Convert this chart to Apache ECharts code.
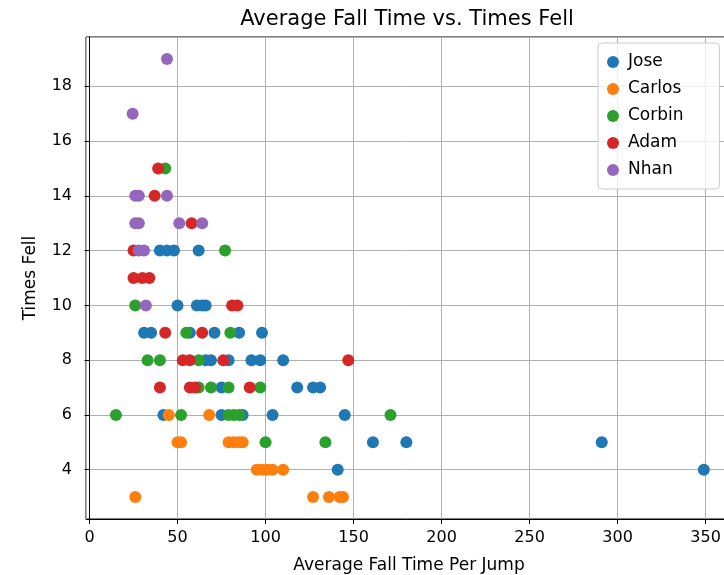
<!DOCTYPE html>
<html>
<head>
<meta charset="utf-8">
<script src="https://cdn.jsdelivr.net/npm/echarts@6/dist/echarts.min.js"></script>
<style>
  body { margin: 0; background: #fff; }
</style>
</head>
<body>
<div id="chart" style="width: 724px; height: 575px;"></div>
<script>
  // [average fall time per jump, times fell]
  var names = ['Jose', 'Carlos', 'Corbin', 'Adam', 'Nhan'];
  var colors = ['#1f77b4', '#ff7f0e', '#2ca02c', '#d62728', '#9467bd'];

  var jose = [
    [349, 4], [141, 4],
    [161, 5], [180, 5], [291, 5],
    [42, 6], [75, 6], [87, 6], [104, 6], [145, 6],
    [75, 7], [118, 7], [127, 7], [131, 7],
    [66, 8], [69, 8], [79, 8], [92, 8], [97, 8], [110, 8],
    [31, 9], [35, 9], [57, 9], [71, 9], [85, 9], [98, 9],
    [50, 10], [61, 10], [64, 10], [66, 10],
    [40, 12], [44, 12], [48, 12], [62, 12]
  ];
  var carlos = [
    [26, 3], [127, 3], [136, 3], [142, 3], [144, 3],
    [95, 4], [98, 4], [101, 4], [104, 4], [110, 4],
    [50, 5], [52, 5], [79, 5], [82, 5], [85, 5], [87, 5],
    [45, 6], [68, 6]
  ];
  var corbin = [
    [100, 5], [134, 5],
    [15, 6], [52, 6], [79, 6], [82, 6], [85, 6], [171, 6],
    [62, 7], [69, 7], [79, 7], [97, 7],
    [33, 8], [40, 8], [62, 8],
    [55, 9], [80, 9],
    [26, 10],
    [77, 12],
    [43, 15]
  ];
  var adam = [
    [40, 7], [57, 7], [60, 7], [91, 7],
    [53, 8], [57, 8], [76, 8], [147, 8],
    [43, 9], [64, 9],
    [81, 10], [84, 10],
    [25, 11], [30, 11], [34, 11],
    [25, 12],
    [58, 13],
    [37, 14],
    [39, 15]
  ];
  var nhan = [
    [32, 10],
    [28, 12], [31, 12],
    [26, 13], [28, 13], [51, 13], [64, 13],
    [26, 14], [28, 14], [44, 14],
    [24.5, 17],
    [44, 19]
  ];
  var seriesData = [jose, carlos, corbin, adam, nhan];

  var font = 'DejaVu Sans';
  var chart = echarts.init(document.getElementById('chart'));

  var series = [];
  for (var i = 0; i < names.length; i++) {
    series.push({
      name: names[i],
      type: 'scatter',
      symbolSize: 12,
      itemStyle: { color: colors[i], opacity: 1 },
      data: seriesData[i]
    });
  }

  chart.setOption({
    animation: false,
    color: colors,
    title: {
      text: 'Average Fall Time vs. Times Fell',
      left: 407,
      top: 9,
      padding: 0,
      textAlign: 'center',
      textStyle: { fontFamily: font, fontSize: 21, fontWeight: 'normal', color: '#000' }
    },
    legend: {
      data: names,
      orient: 'vertical',
      left: 598,
      top: 43,
      padding: [9, 36, 9, 9],
      itemWidth: 20,
      itemHeight: 12,
      itemGap: 7,
      icon: 'circle',
      backgroundColor: 'rgba(255,255,255,0.8)',
      borderColor: '#cccccc',
      borderWidth: 1,
      borderRadius: 4,
      textStyle: { fontFamily: font, fontSize: 17, color: '#000', lineHeight: 20 }
    },
    grid: {
      left: 86,
      top: 37,
      right: -8,
      bottom: 56,
      outerBoundsMode: 'none',
      containLabel: false,
      show: true,
      borderColor: '#000',
      borderWidth: 1
    },
    xAxis: {
      type: 'value',
      min: -2,
      max: 365,
      splitNumber: 7,
      name: 'Average Fall Time Per Jump',
      nameLocation: 'middle',
      nameGap: 38,
      nameTextStyle: { fontFamily: font, fontSize: 17, color: '#000' },
      axisLine: { lineStyle: { color: '#000' } },
      axisTick: { show: true, length: 5, lineStyle: { color: '#000' } },
      axisLabel: { fontFamily: font, fontSize: 16, color: '#000', margin: 11, showMinLabel: false, showMaxLabel: false },
      splitLine: { show: true, lineStyle: { color: '#b0b0b0', width: 1 } }
    },
    yAxis: {
      type: 'value',
      min: 2.2,
      max: 19.8,
      splitNumber: 9,
      name: 'Times Fell',
      nameLocation: 'middle',
      nameGap: 47,
      nameTextStyle: { fontFamily: font, fontSize: 17, color: '#000' },
      axisLine: { show: true, lineStyle: { color: '#000' } },
      axisTick: { show: true, length: 5, lineStyle: { color: '#000' } },
      axisLabel: { fontFamily: font, fontSize: 16, color: '#000', margin: 14, showMinLabel: false, showMaxLabel: false },
      splitLine: { show: true, lineStyle: { color: '#b0b0b0', width: 1 } }
    },
    series: series
  });
</script>
</body>
</html>
